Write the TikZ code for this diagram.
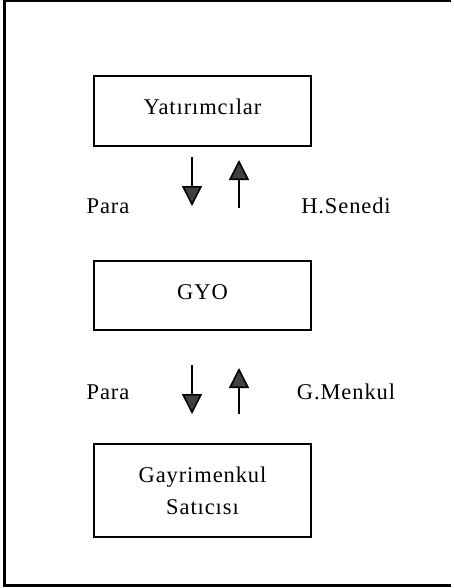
\documentclass[tikz,border=0pt]{standalone}
\usepackage{fontspec}
\setmainfont{Liberation Serif}[LetterSpace=4]
\usetikzlibrary{arrows.meta}
\begin{document}
\begin{tikzpicture}[x=1pt,y=-1pt,
  every node/.style={font=\fontsize{22.5}{30}\selectfont},
  stage/.style={draw, line width=1.6pt, minimum width=217pt, inner sep=0pt, align=center},
  flow/.style={line width=1.6pt, -{Triangle[width=20pt,length=20pt,fill=black!75]}},
  lbl/.style={inner sep=0pt}]
\useasboundingbox (0,0) rectangle (453,588);
% frame (top, left, bottom)
\draw[line width=2.2pt] (451,1.2) -- (4.5,1.2) -- (4.5,585.5) -- (451,585.5);
% stages
\node[stage, minimum height=70pt] (inv) at (202.5,111) {\raisebox{8pt}{Yatırımcılar}};
\node[stage, minimum height=69pt] (gyo) at (202.5,295.5) {\raisebox{7pt}{GYO}};
\node[stage, minimum height=93pt] (sel) at (202.5,490.5) {Gayrimenkul\\[2pt]Satıcısı};
% arrow end points
\coordinate (d1s) at (192,157);
\coordinate (d1e) at (192,206);
\coordinate (u1s) at (239,208);
\coordinate (u1e) at (239,160);
\coordinate (d2s) at (192,365);
\coordinate (d2e) at (192,414);
\coordinate (u2s) at (239,414);
\coordinate (u2e) at (239,368);
\draw[flow] (d1s) -- (d1e);
\draw[flow] (u1s) -- (u1e);
\draw[flow] (d2s) -- (d2e);
\draw[flow] (u2s) -- (u2e);
% labels
\node[lbl] (p1) at (108,206) {Para};
\node[lbl] (hs) at (346,206) {H.Senedi};
\node[lbl] (p2) at (108,392) {Para};
\node[lbl] (gm) at (346,392) {G.Menkul};
\end{tikzpicture}
\end{document}
